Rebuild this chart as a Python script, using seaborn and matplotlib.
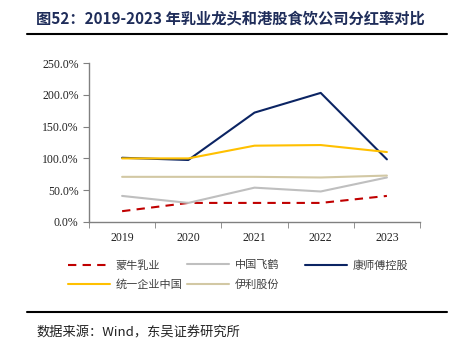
import matplotlib
matplotlib.use("Agg")
import matplotlib.pyplot as plt
from matplotlib.lines import Line2D
from matplotlib.ticker import FuncFormatter, FixedLocator
import seaborn as sns
import pandas as pd

years = ["2019", "2020", "2021", "2022", "2023"]
mengniu = [17, 30, 30, 30, 41]
feihe = [41, 30, 54, 48, 70]
kangshifu = [101, 97.5, 172, 203, 98.5]
tongyi = [100, 100, 120, 121, 110]
yili = [71, 71, 71, 70, 73]

series = [
    ("蒙牛乳业", mengniu, "#C00000", (0, (4, 3))),
    ("中国飞鹤", feihe, "#BFBFBF", "-"),
    ("康师傅控股", kangshifu, "#0B2463", "-"),
    ("统一企业中国", tongyi, "#FFC000", "-"),
    ("伊利股份", yili, "#D2C8A4", "-"),
]

sns.set_style("ticks")
plt.rcParams['font.family'] = ['Noto Sans CJK SC', 'DejaVu Sans']

fig = plt.figure(figsize=(4.57, 3.5), dpi=100)
ax = fig.add_axes([89 / 457, 1 - 222 / 350, (420 - 89) / 457, (222 - 63) / 350])

for name, vals, color, ls in series:
    df = pd.DataFrame({"year": years, "v": vals})
    sns.lineplot(data=df, x="year", y="v", ax=ax, color=color, linestyle=ls,
                 linewidth=1.5, label=name, legend=False)

ax.set_xlim(-0.5, 4.5)
ax.set_ylim(0, 250)
ax.set_yticks([0, 50, 100, 150, 200, 250])
ax.yaxis.set_major_formatter(FuncFormatter(lambda v, p: f"{v:.1f}%"))
ax.xaxis.set_minor_locator(FixedLocator([-0.5, 0.5, 1.5, 2.5, 3.5, 4.5]))
ax.tick_params(axis="x", which="major", length=0, pad=7)
ax.tick_params(axis="x", which="minor", length=4, color="#808080")
ax.tick_params(axis="y", length=4, color="#808080")
ax.set_xlabel("")
ax.set_ylabel("")
for lab in ax.get_xticklabels() + ax.get_yticklabels():
    lab.set_family("Liberation Serif")
    lab.set_fontsize(8.5)
    lab.set_color("#222222")
sns.despine(ax=ax)
for s in ["left", "bottom"]:
    ax.spines[s].set_color("#808080")
    ax.spines[s].set_linewidth(1)

# legend: three columns placed like the reference (row-major order)
columns = [([0, 3], 58), ([1, 4], 177), ([2], 295)]
for idx, xpix in columns:
    handles = [Line2D([], [], color=series[i][2], linestyle=series[i][3], linewidth=1.5) for i in idx]
    labels = [series[i][0] for i in idx]
    leg = fig.legend(handles, labels, ncol=1, loc="upper left",
                     bbox_to_anchor=(xpix / 457, 1 - 250 / 350),
                     frameon=False, fontsize=8, handlelength=3.8,
                     handletextpad=0.5, labelspacing=0.8)
    for t in leg.get_texts():
        t.set_color("#404040")

fig.text(36 / 457, 1 - 19 / 350, "图52：2019-2023 年乳业龙头和港股食饮公司分红率对比",
         fontsize=11, fontweight="bold", color="#1F2D5A", va="center", ha="left")
fig.add_artist(Line2D([27 / 457, 447 / 457], [1 - 34 / 350] * 2, color="black", linewidth=1.5))
fig.add_artist(Line2D([27 / 457, 447 / 457], [1 - 312 / 350] * 2, color="black", linewidth=1.5))
fig.text(36 / 457, 1 - 333 / 350, "数据来源：Wind，东吴证券研究所", fontsize=9.5,
         color="#222222", va="center", ha="left")

fig.savefig("out.png", dpi=100)
